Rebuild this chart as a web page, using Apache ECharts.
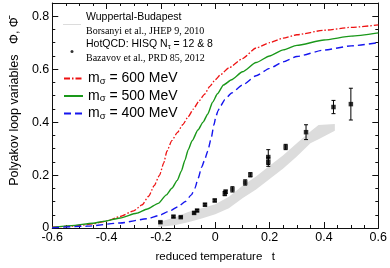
<!DOCTYPE html>
<html><head><meta charset="utf-8">
<script src="https://cdn.jsdelivr.net/npm/echarts@6/dist/echarts.min.js"></script>
<style>html,body{margin:0;padding:0;background:#fff}#c{width:390px;height:268px}</style>
</head><body><div id="c"></div>
<script>
// m_sigma = 600 MeV
const redT = [-0.6,-0.55,-0.5,-0.45,-0.4,-0.35,-0.3,-0.27,-0.245,-0.225,-0.205,-0.19,-0.178,-0.16,-0.14,-0.12,-0.1,-0.08,-0.06,-0.04,-0.02,0.0,0.02,0.05,0.1,0.15,0.2,0.25,0.3,0.4,0.5,0.6];
const redV = [0.003,0.006,0.009,0.016,0.026,0.044,0.065,0.087,0.12,0.16,0.2,0.245,0.29,0.33,0.36,0.39,0.42,0.45,0.48,0.505,0.535,0.56,0.58,0.605,0.64,0.68,0.70,0.717,0.73,0.747,0.758,0.767];
// m_sigma = 500 MeV
const greenT = [-0.6,-0.53,-0.45,-0.41,-0.35,-0.29,-0.25,-0.21,-0.18,-0.16,-0.14,-0.125,-0.112,-0.1,-0.085,-0.064,-0.045,-0.028,-0.01,0.008,0.03,0.06,0.1,0.15,0.2,0.25,0.3,0.4,0.5,0.6];
const greenV = [0.002,0.009,0.018,0.025,0.038,0.056,0.072,0.093,0.125,0.15,0.18,0.215,0.255,0.295,0.33,0.37,0.40,0.43,0.475,0.507,0.54,0.56,0.59,0.625,0.65,0.673,0.69,0.71,0.725,0.737];
// m_sigma = 400 MeV
const blueT = [-0.6,-0.47,-0.35,-0.25,-0.208,-0.17,-0.136,-0.11,-0.088,-0.075,-0.064,-0.05,-0.04,-0.028,-0.015,-0.005,0.002,0.01,0.02,0.035,0.06,0.1,0.15,0.2,0.25,0.3,0.4,0.5,0.6];
const blueV = [0.001,0.007,0.019,0.035,0.047,0.063,0.081,0.10,0.125,0.15,0.185,0.23,0.255,0.29,0.34,0.39,0.42,0.443,0.462,0.485,0.51,0.54,0.575,0.603,0.628,0.648,0.672,0.688,0.70];
// Wuppertal-Budapest band
const bandT = [-0.21,-0.15,-0.1,-0.05,0,0.05,0.1,0.15,0.2,0.25,0.3,0.35,0.38,0.44];
const bandLo = [0.004,0.01,0.022,0.036,0.052,0.075,0.112,0.145,0.185,0.225,0.27,0.32,0.335,0.367];
const bandHi = [0.022,0.04,0.06,0.075,0.09,0.118,0.16,0.195,0.235,0.275,0.32,0.365,0.389,0.393];
// HotQCD points
const ptT = [-0.202,-0.154,-0.127,-0.078,-0.067,-0.038,-0.002,0.035,0.038,0.063,0.110,0.129,0.195,0.195,0.259,0.334,0.435,0.499];
const ptV = [0.022,0.043,0.041,0.057,0.066,0.088,0.104,0.130,0.137,0.146,0.172,0.201,0.250,0.268,0.306,0.362,0.457,0.468];
const ptErr = [0.003,0.003,0.003,0.004,0.004,0.005,0.005,0.008,0.006,0.010,0.010,0.008,0.017,0.028,0.010,0.028,0.025,0.060];

const xMin = -0.6, xMax = 0.6, xStep = 0.2;
const yMin = 0, yMax = 0.85, yStep = 0.2, yMinor = 0.05;

const zip = (a, b) => a.map((v, i) => [v, b[i]]);
const SANS = 'Liberation Sans', SERIF = 'Liberation Serif';
const AX = '#111';

const chart = echarts.init(document.getElementById('c'), null, {renderer: 'canvas'});

const baseX = {
  type: 'value', min: xMin, max: xMax, interval: xStep,
  axisLine: {show: true, onZero: false, lineStyle: {color: AX, width: 1}},
  axisTick: {show: true, inside: true, length: 6, lineStyle: {color: AX}},
  minorTick: {show: true, splitNumber: 4, length: 3, lineStyle: {color: AX}},
  splitLine: {show: false}, minorSplitLine: {show: false}
};
const majorY = {
  type: 'value', min: yMin, max: yMax, interval: yStep,
  axisLine: {show: true, onZero: false, lineStyle: {color: AX, width: 1}},
  axisTick: {show: true, inside: true, length: 6, lineStyle: {color: AX}},
  splitLine: {show: false}
};
const minorY = {
  type: 'value', min: yMin, max: yMax, interval: yMinor,
  axisLine: {show: false, onZero: false}, axisLabel: {show: false},
  axisTick: {show: true, inside: true, length: 3, lineStyle: {color: AX}},
  splitLine: {show: false}
};

const option = {
  animation: false,
  backgroundColor: '#fff',
  grid: {left: 47, right: 9, top: 3, bottom: 38, containLabel: false},
  xAxis: [
    Object.assign({}, baseX, {
      position: 'bottom',
      name: 'reduced temperature   t', nameLocation: 'middle', nameGap: 23,
      nameTextStyle: {fontFamily: SANS, fontSize: 11.5, color: '#000'},
      axisLabel: {show: true, margin: 3, fontFamily: SANS, fontSize: 12.5, color: '#000',
        formatter: v => (Math.abs(v) < 1e-9 ? '0' : v.toFixed(1))}
    }),
    Object.assign({}, baseX, {position: 'top', axisLabel: {show: false}})
  ],
  yAxis: [
    Object.assign({}, majorY, {
      position: 'left',
      name: 'Polyakov loop variables   \u03A6, \u03A6\u0304', nameLocation: 'middle', nameGap: 31,
      nameTextStyle: {fontFamily: SANS, fontSize: 12.5, color: '#000', padding: [0, 0, 0, 28]},
      axisLabel: {show: true, margin: 3, fontFamily: SANS, fontSize: 12.5, color: '#000',
        showMaxLabel: false,
        formatter: v => {
          const k = Math.round(v / yStep);
          if (Math.abs(k * yStep - v) > 1e-6) return '';
          return k === 0 ? '0' : v.toFixed(1);
        }}
    }),
    Object.assign({}, minorY, {position: 'left'}),
    Object.assign({}, majorY, {position: 'right', axisLabel: {show: false}}),
    Object.assign({}, minorY, {position: 'right'})
  ],
  legend: [
    {
      orient: 'vertical', left: 63, top: 12, padding: 0, itemGap: 2,
      itemWidth: 18, itemHeight: 3, selectedMode: false,
      data: [
        {name: 'WB', icon: 'path://M0,0L20,0L20,1.1L0,1.1Z'},
        {name: 'HotQCD', icon: 'circle'}
      ],
      formatter: n => n === 'WB'
        ? '{a|Wuppertal-Budapest}\n{b|Borsanyi et al., JHEP 9, 2010}'
        : '{a|HotQCD: HISQ N}{s|\u03C4}{a| = 12 & 8}\n{b|Bazavov et al., PRD 85, 2012}',
      textStyle: {
        rich: {
          a: {fontFamily: SANS, fontSize: 10.5, lineHeight: 13, color: '#000'},
          s: {fontFamily: SANS, fontSize: 7.5, lineHeight: 13, color: '#000', padding: [5, 0, 0, 0]},
          b: {fontFamily: SERIF, fontSize: 10, lineHeight: 14, color: '#000'}
        }
      }
    },
    {
      orient: 'vertical', left: 63, top: 71, padding: 0, itemGap: 2.5,
      itemWidth: 19, itemHeight: 10, selectedMode: false,
      itemStyle: {opacity: 0},
      data: ['m600', 'm500', 'm400'],
      formatter: n => '{m|m}{s|\u03C3}{m| = ' + n.slice(1) + ' MeV}',
      textStyle: {
        rich: {
          m: {fontFamily: SANS, fontSize: 14, lineHeight: 16, color: '#000'},
          s: {fontFamily: SANS, fontSize: 9.5, lineHeight: 16, color: '#000', padding: [5, 0, 0, 0]}
        }
      }
    }
  ],
  series: [
    {
      name: 'WB', type: 'custom', xAxisIndex: 0, yAxisIndex: 0, clip: true,
      itemStyle: {color: '#dcdcdc'},
      data: [[bandT[0], bandLo[0]]],
      renderItem: function (params, api) {
        const pts = [];
        for (let i = 0; i < bandT.length; i++) pts.push(api.coord([bandT[i], bandLo[i]]));
        for (let i = bandT.length - 1; i >= 0; i--) pts.push(api.coord([bandT[i], bandHi[i]]));
        return {type: 'polygon', shape: {points: pts}, style: {fill: '#dcdcdc'}};
      },
      z: 1
    },
    {
      name: 'm600', type: 'line', data: zip(redT, redV), showSymbol: false, symbol: 'none',
      smooth: 0.2, smoothMonotone: 'x',
      lineStyle: {color: '#ee1111', width: 1.3, type: [6, 2, 1.5, 2]},
      itemStyle: {color: '#ee1111'}, z: 3
    },
    {
      name: 'm500', type: 'line', data: zip(greenT, greenV), showSymbol: false, symbol: 'none',
      smooth: 0.2, smoothMonotone: 'x',
      lineStyle: {color: '#1a981a', width: 1.4, type: 'solid'},
      itemStyle: {color: '#1a981a'}, z: 3
    },
    {
      name: 'm400', type: 'line', data: zip(blueT, blueV), showSymbol: false, symbol: 'none',
      smooth: 0.2, smoothMonotone: 'x',
      lineStyle: {color: '#1515ee', width: 1.4, type: [7, 4]},
      itemStyle: {color: '#1515ee'}, z: 3
    },
    {
      name: 'HotQCDerr', type: 'custom', z: 4,
      data: ptT.map((t, i) => [t, ptV[i], ptErr[i]]),
      encode: {x: 0, y: 1},
      renderItem: function (params, api) {
        const t = api.value(0), v = api.value(1), e = api.value(2);
        const hi = api.coord([t, v + e]), lo = api.coord([t, v - e]);
        const c = 2;
        const st = {stroke: '#000', lineWidth: 1};
        return {type: 'group', children: [
          {type: 'line', shape: {x1: hi[0], y1: hi[1], x2: lo[0], y2: lo[1]}, style: st},
          {type: 'line', shape: {x1: hi[0] - c, y1: hi[1], x2: hi[0] + c, y2: hi[1]}, style: st},
          {type: 'line', shape: {x1: lo[0] - c, y1: lo[1], x2: lo[0] + c, y2: lo[1]}, style: st}
        ]};
      }
    },
    {
      name: 'HotQCD', type: 'scatter', data: zip(ptT, ptV), symbol: 'rect', symbolSize: 4.5,
      itemStyle: {color: '#000'}, z: 5
    }
  ]
};
chart.setOption(option);
</script>
</body></html>
